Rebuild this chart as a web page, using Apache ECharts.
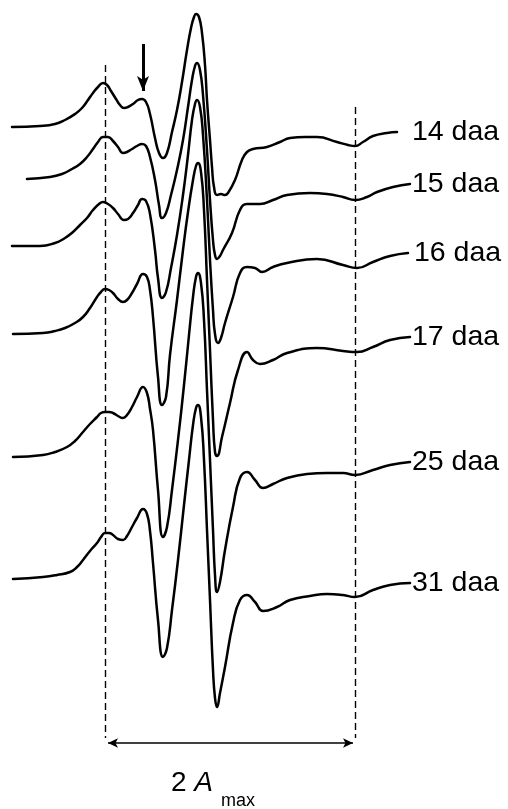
<!DOCTYPE html>
<html>
<head>
<meta charset="utf-8">
<script src="https://cdn.jsdelivr.net/npm/echarts@6/dist/echarts.min.js"></script>
<style>
html,body{margin:0;padding:0;background:#fff;}
#chart{width:508px;height:809px;}
</style>
</head>
<body>
<div id="chart"></div>
<script>
// Spectrum names (days after anthesis)
const names = ['14 daa', '15 daa', '16 daa', '17 daa', '25 daa', '31 daa'];
// vertical stacking offset of each spectrum baseline
const offsets = [-127, -179, -246, -334, -457, -579];

// [field (arb. units, left hyperfine peak = 0), signal amplitude]
const s14 = [[-93,0],[-65,1],[-50,3],[-40,7],[-30,13],[-23,19],[-17,27],[-12,34],[-7,40],[-2,44],[2,42],[6,36],[11,28],[15,22],[19,19],[23,20],[28,23],[33,27],[37,28],[41,25],[45,13],[50,-11],[54,-26],[58,-31],[62,-26],[67,-5],[72,17],[77,45],[82,77],[86,99],[89,110],[91,113],[94,110],[97,94],[100,62],[102,27],[105,-13],[107,-40],[109,-60],[112,-68],[116,-67],[120,-68],[123,-66],[130,-53],[137,-33],[142,-25],[148,-22],[162,-20],[175,-15],[185,-11],[200,-10],[212,-10],[232,-15],[243,-18],[250,-19],[258,-15],[268,-9],[282,-6],[292,-5]];
const s15 = [[-78,0],[-55,2],[-43,5],[-33,10],[-25,15],[-18,22],[-12,30],[-7,37],[-2,42],[3,42],[8,38],[13,32],[18,26],[22,27],[27,30],[32,33],[37,35],[41,33],[45,22],[50,-1],[54,-26],[57,-39],[61,-34],[66,-16],[72,9],[78,39],[83,72],[87,99],[90,113],[92,116],[95,109],[98,84],[102,29],[105,-21],[108,-61],[110,-76],[112,-80],[115,-77],[118,-71],[127,-54],[135,-31],[142,-25],[155,-25],[168,-21],[182,-16],[205,-14],[222,-15],[238,-18],[250,-21],[262,-18],[272,-13],[288,-8],[305,-5]];
const s16 = [[-93,0],[-65,0],[-50,3],[-40,8],[-32,14],[-25,21],[-18,28],[-12,36],[-6,42],[-2,44],[3,42],[8,38],[13,32],[19,26],[23,27],[28,33],[33,41],[37,47],[41,45],[45,32],[50,-4],[53,-32],[57,-52],[61,-46],[66,-22],[72,11],[78,51],[83,91],[87,126],[90,142],[92,146],[95,139],[98,111],[102,46],[105,-14],[108,-64],[110,-88],[113,-97],[116,-92],[120,-77],[128,-51],[135,-27],[142,-21],[150,-22],[157,-26],[168,-21],[182,-17],[212,-13],[238,-19],[252,-22],[268,-16],[285,-10],[303,-7]];
const s17 = [[-92,0],[-62,1],[-50,3],[-40,6],[-30,11],[-22,17],[-15,26],[-8,37],[-4,42],[0,45],[4,44],[8,41],[13,35],[18,32],[22,34],[27,41],[32,50],[38,60],[42,57],[45,44],[48,17],[53,-43],[57,-71],[61,-63],[65,-21],[72,34],[78,84],[83,122],[88,154],[91,168],[93,171],[96,162],[99,124],[102,54],[105,-16],[108,-86],[110,-118],[112,-122],[117,-103],[125,-69],[133,-36],[142,-18],[148,-26],[155,-30],[168,-26],[182,-19],[212,-14],[238,-17],[252,-18],[268,-13],[285,-6],[305,-3]];
const s25 = [[-92,0],[-62,2],[-50,5],[-38,10],[-30,16],[-22,25],[-15,33],[-8,40],[-4,44],[0,45],[4,45],[8,44],[13,41],[18,39],[22,42],[27,50],[32,60],[38,70],[42,64],[45,48],[48,27],[53,-33],[58,-80],[62,-70],[67,-33],[73,17],[79,72],[84,122],[88,160],[91,180],[93,184],[96,174],[99,137],[102,67],[105,-3],[108,-73],[110,-118],[112,-135],[115,-125],[120,-93],[128,-50],[135,-21],[142,-15],[150,-23],[158,-31],[168,-27],[182,-21],[202,-17],[222,-16],[238,-16],[250,-18],[268,-13],[285,-8],[305,-5]];
const s31 = [[-92,0],[-62,2],[-48,4],[-35,7],[-28,12],[-22,19],[-15,28],[-8,36],[-4,42],[0,46],[4,46],[8,44],[13,40],[18,39],[22,43],[27,52],[32,61],[38,70],[42,65],[45,48],[48,16],[53,-41],[58,-78],[62,-69],[67,-31],[73,19],[79,74],[84,119],[88,154],[91,171],[93,174],[96,162],[99,119],[102,49],[105,-21],[108,-91],[110,-119],[112,-128],[115,-114],[120,-88],[128,-44],[135,-21],[142,-16],[150,-23],[158,-32],[172,-28],[185,-21],[205,-17],[222,-15],[238,-16],[250,-18],[268,-11],[285,-6],[305,-4]];
const spectra = [s14, s15, s16, s17, s25, s31];

// Annotation values (field units / plot units)
const aLeft = 0, aRight = 250;          // 2 A_max markers
const arrowField = 38;                   // marked feature

const labelGap = [15, 2, 6, 2, 2, 2];
const FONT = 'Liberation Sans, Arial, sans-serif';

const chart = echarts.init(document.getElementById('chart'), null, {renderer: 'canvas'});

const series = spectra.map((s, i) => ({
  type: 'line',
  name: names[i],
  data: s.map(p => [p[0], p[1] + offsets[i]]),
  showSymbol: false,
  symbol: 'none',
  smooth: 0.5,
  lineStyle: {color: '#000', width: 2.5, cap: 'round', join: 'round'},
  endLabel: {
    show: true,
    formatter: '{a}',
    color: '#000',
    fontSize: 28.5,
    fontFamily: FONT,
    distance: labelGap[i]
  },
  z: 3
}));

// dashed markers and arrows
series.push({
  type: 'line',
  data: [],
  silent: true,
  markLine: {
    silent: true,
    symbol: ['none', 'none'],
    label: {show: false},
    lineStyle: {color: '#000', width: 1.4, type: [7, 4]},
    data: [
      [{coord: [aLeft, -65]}, {coord: [aLeft, -738]}],
      [{coord: [aRight, -107]}, {coord: [aRight, -738]}]
    ]
  }
});
series.push({
  type: 'line',
  data: [],
  silent: true,
  markLine: {
    silent: true,
    symbol: ['arrow', 'arrow'],
    symbolSize: [7, 10],
    label: {show: false},
    lineStyle: {color: '#000', width: 1.6, type: 'solid'},
    data: [
      [{coord: [aLeft + 3, -743]}, {coord: [aRight - 2, -743]}]
    ]
  }
});
series.push({
  type: 'line',
  data: [],
  silent: true,
  markLine: {
    silent: true,
    symbol: ['none', 'arrow'],
    symbolSize: [9, 15],
    label: {show: false},
    lineStyle: {color: '#000', width: 3, type: 'solid'},
    data: [
      [{coord: [arrowField, -44]}, {coord: [arrowField, -91]}]
    ]
  }
});

chart.setOption({
  animation: false,
  backgroundColor: '#fff',
  grid: {left: 0, right: 0, top: 0, bottom: 0, containLabel: false},
  xAxis: {type: 'value', min: -105, max: 403, show: false},
  yAxis: {type: 'value', min: -809, max: 0, show: false},
  title: [{
    text: '{n|2 }{a|A}',
    left: 171,
    top: 769,
    textStyle: {
      fontWeight: 'normal',
      rich: {
        n: {fontSize: 28, fontWeight: 'normal', fontFamily: FONT, color: '#000'},
        a: {fontSize: 28, fontWeight: 'normal', fontStyle: 'italic', fontFamily: FONT, color: '#000'}
      }
    },
    padding: 0
  }, {
    text: 'max',
    left: 221,
    top: 792,
    textStyle: {fontSize: 18, fontWeight: 'normal', fontFamily: FONT, color: '#000'},
    padding: 0
  }],
  series: series
});
</script>
</body>
</html>
